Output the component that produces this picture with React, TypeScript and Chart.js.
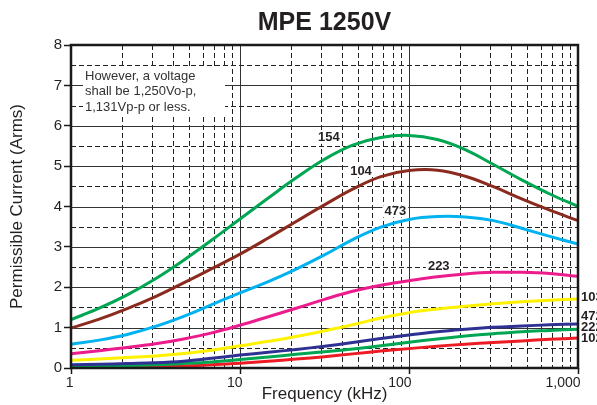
import React, { useEffect, useRef } from "react";
import { Chart, registerables } from "chart.js";

Chart.register(...registerables);

// ---- data (at evenly spaced log frequencies) ----
const FREQ = [1, 1.47, 2.15, 3.16, 4.64, 6.81, 10, 14.7, 21.5, 31.6, 46.4, 68.1, 100, 147, 215, 316, 464, 681, 1000];
const S154 = [1.2, 1.48, 1.81, 2.21, 2.67, 3.17, 3.69, 4.21, 4.71, 5.17, 5.52, 5.71, 5.76, 5.66, 5.41, 5.04, 4.66, 4.31, 4.0];
const S104 = [0.99, 1.21, 1.47, 1.77, 2.11, 2.46, 2.82, 3.22, 3.63, 4.04, 4.43, 4.74, 4.89, 4.9, 4.75, 4.49, 4.19, 3.91, 3.65];
const S473 = [0.59, 0.69, 0.83, 1.03, 1.28, 1.57, 1.86, 2.14, 2.45, 2.8, 3.18, 3.49, 3.68, 3.75, 3.74, 3.65, 3.46, 3.26, 3.07];
const S223 = [0.35, 0.43, 0.51, 0.6, 0.72, 0.87, 1.06, 1.27, 1.48, 1.7, 1.9, 2.05, 2.16, 2.26, 2.33, 2.37, 2.37, 2.34, 2.27];
const S103 = [0.19, 0.22, 0.26, 0.3, 0.36, 0.44, 0.55, 0.66, 0.78, 0.92, 1.07, 1.24, 1.37, 1.46, 1.53, 1.59, 1.64, 1.68, 1.71];
const S472 = [0.08, 0.09, 0.11, 0.13, 0.17, 0.24, 0.32, 0.39, 0.46, 0.54, 0.63, 0.73, 0.82, 0.9, 0.96, 1.01, 1.04, 1.07, 1.09];
const S222 = [0.04, 0.05, 0.06, 0.08, 0.11, 0.15, 0.21, 0.27, 0.34, 0.4, 0.47, 0.55, 0.64, 0.72, 0.79, 0.85, 0.9, 0.93, 0.96];
const S102 = [0.0, 0.01, 0.02, 0.03, 0.05, 0.08, 0.12, 0.17, 0.22, 0.28, 0.35, 0.42, 0.48, 0.54, 0.59, 0.63, 0.67, 0.71, 0.74];

const SERIES_NAMES = ["154", "104", "473", "223", "103", "472", "222", "102"];
const SERIES_VALUES = [S154, S104, S473, S223, S103, S472, S222, S102];
const SERIES_COLORS = ["#00a651", "#8b2a1f", "#00b2ef", "#ec1c8c", "#fff200", "#2e3192", "#00a651", "#ed1c24"];

const X_TICKS = [1, 10, 100, 1000];
const X_TICK_LABELS = ["1", "10", "100", "1,000"];
const Y_MIN = 0;
const Y_MAX = 8;

// in-plot curve labels (frequency, value)
const IN_LABELS = ["154", "104", "473", "223"];
const IN_LABEL_F = [33.6, 52, 83, 150];
const IN_LABEL_V = [5.7, 4.88, 3.88, 2.52];
// labels at the right end
const END_LABELS = ["103", "472", "222", "102"];
const END_LABEL_V = [1.74, 1.27, 1.01, 0.725];

const TITLE = "MPE 1250V";
const NOTE_LINES = ["However, a voltage", "shall be 1,250Vo-p,", "1,131Vp-p or less."];

const FONT = "'Liberation Sans', Arial, Helvetica, sans-serif";
const TEXT = "#231f20";

const decorPlugin = {
  id: "decor",
  beforeDatasetsDraw(chart: any) {
    const { ctx, chartArea: a, scales } = chart;
    const x = scales.x;
    const y = scales.y;
    ctx.save();
    ctx.lineWidth = 1;
    // vertical grid
    for (const d of [1, 10, 100]) {
      for (let m = 1; m <= 9; m++) {
        const f = d * m;
        if (f <= 1) continue;
        const px = Math.round(x.getPixelForValue(f)) + 0.5;
        ctx.beginPath();
        if (m === 1) {
          ctx.setLineDash([]);
          ctx.strokeStyle = "#333";
        } else {
          ctx.setLineDash([5, 3]);
          ctx.strokeStyle = "#222";
        }
        ctx.moveTo(px, a.top);
        ctx.lineTo(px, a.bottom);
        ctx.stroke();
      }
    }
    // horizontal grid
    for (let v = Y_MIN + 0.5; v < Y_MAX; v += 0.5) {
      const py = Math.round(y.getPixelForValue(v)) + 0.5;
      ctx.beginPath();
      if (Number.isInteger(v)) {
        ctx.setLineDash([]);
        ctx.strokeStyle = "#333";
      } else {
        ctx.setLineDash([5, 3]);
        ctx.strokeStyle = "#222";
      }
      ctx.moveTo(a.left, py);
      ctx.lineTo(a.right, py);
      ctx.stroke();
    }
    ctx.setLineDash([]);
    // note box
    ctx.fillStyle = "#fff";
    ctx.fillRect(a.left + 12, a.top + 22, 142, 47);
    ctx.fillStyle = "#333";
    ctx.font = `13px ${FONT}`;
    ctx.textAlign = "left";
    ctx.textBaseline = "alphabetic";
    NOTE_LINES.forEach((t, i) => {
      ctx.fillText(t, a.left + 14, a.top + 34.5 + i * 15.6);
    });
    ctx.restore();
  },
  afterDatasetsDraw(chart: any) {
    const { ctx, chartArea: a, scales } = chart;
    const x = scales.x;
    const y = scales.y;
    ctx.save();
    // frame
    ctx.strokeStyle = "#1a1a1a";
    ctx.lineWidth = 2.5;
    ctx.strokeRect(a.left, a.top, a.right - a.left, a.bottom - a.top);
    // in-plot labels
    ctx.font = `bold 13px ${FONT}`;
    ctx.textAlign = "center";
    ctx.textBaseline = "middle";
    IN_LABELS.forEach((t, i) => {
      const px = x.getPixelForValue(IN_LABEL_F[i]);
      const py = y.getPixelForValue(IN_LABEL_V[i]);
      const w = ctx.measureText(t).width;
      ctx.fillStyle = "#fff";
      ctx.fillRect(px - w / 2 - 2, py - 6, w + 4, 12);
      ctx.fillStyle = TEXT;
      ctx.fillText(t, px, py);
    });
    // end labels
    ctx.textAlign = "left";
    END_LABELS.forEach((t, i) => {
      const px = a.right + 3;
      const py = y.getPixelForValue(END_LABEL_V[i]);
      ctx.fillStyle = TEXT;
      ctx.fillText(t, px, py);
    });
    // title
    ctx.font = `bold 25px ${FONT}`;
    ctx.textAlign = "center";
    ctx.textBaseline = "middle";
    ctx.fillStyle = TEXT;
    ctx.fillText(TITLE, (a.left + a.right) / 2, 23);
    ctx.restore();
  },
};

export default function App() {
  const ref = useRef<HTMLCanvasElement | null>(null);
  useEffect(() => {
    document.body.style.margin = "0";
    const canvas = ref.current;
    if (!canvas) return;
    const chart = new Chart(canvas, {
      type: "line",
      data: {
        datasets: SERIES_NAMES.map((name, i) => ({
          label: name,
          data: FREQ.map((f, j) => ({ x: f, y: SERIES_VALUES[i][j] })),
          borderColor: SERIES_COLORS[i],
          backgroundColor: SERIES_COLORS[i],
          borderWidth: 3,
          pointRadius: 0,
          fill: false,
          tension: 0.4,
        })),
      },
      options: {
        animation: false,
        responsive: false,
        devicePixelRatio: 1,
        layout: { padding: { top: 45, right: 19, left: 0, bottom: 0 } },
        plugins: {
          legend: { display: false },
          tooltip: { enabled: false },
          title: { display: false },
        },
        scales: {
          x: {
            type: "logarithmic",
            min: 1,
            max: 1000,
            afterBuildTicks: (s: any) => {
              s.ticks = X_TICKS.map((v) => ({ value: v }));
            },
            afterFit: (s: any) => {
              s.height = 37;
            },
            ticks: {
              autoSkip: false,
              maxRotation: 0,
              align: "end",
              labelOffset: 2.5,
              padding: 1,
              color: TEXT,
              font: { family: FONT, size: 14 },
              callback: (v: any) => {
                const k = X_TICKS.indexOf(Number(v));
                return k >= 0 ? X_TICK_LABELS[k] : "";
              },
            },
            grid: { drawOnChartArea: false, tickLength: 6, tickColor: "#1a1a1a", tickWidth: 1.5 },
            border: { display: false },
            title: {
              display: true,
              text: "Frequency (kHz)",
              color: TEXT,
              font: { family: FONT, size: 17 },
              padding: 0,
            },
          },
          y: {
            min: Y_MIN,
            max: Y_MAX,
            afterFit: (s: any) => {
              s.width = 71;
            },
            ticks: {
              stepSize: 1,
              padding: 2,
              color: TEXT,
              font: { family: FONT, size: 15 },
            },
            grid: { drawOnChartArea: false, tickLength: 7, tickColor: "#1a1a1a", tickWidth: 1.5 },
            border: { display: false },
            title: {
              display: true,
              text: "Permissible Current (Arms)",
              color: TEXT,
              font: { family: FONT, size: 17 },
              padding: { top: 7, bottom: 0 },
            },
          },
        },
      } as any,
      plugins: [decorPlugin],
    });
    return () => chart.destroy();
  }, []);
  return (
    <div style={{ width: 597, height: 405 }}>
      <canvas ref={ref} width={597} height={405} />
    </div>
  );
}
